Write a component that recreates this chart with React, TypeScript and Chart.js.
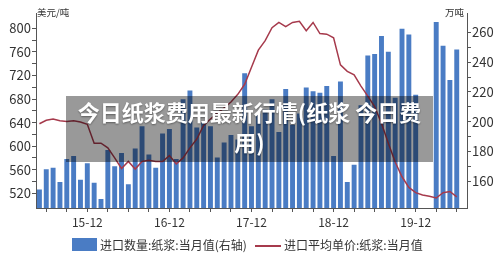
import React, { useEffect, useRef } from "react";
import { Chart, registerables } from "chart.js";

Chart.register(...registerables);

const FONT = '"Noto Sans CJK SC", "Noto Sans", sans-serif';

const months: string[] = [
  "15-05", "15-06", "15-07", "15-08", "15-09", "15-10", "15-11", "15-12",
  "16-01", "16-02", "16-03", "16-04", "16-05", "16-06", "16-07", "16-08", "16-09", "16-10", "16-11", "16-12",
  "17-01", "17-02", "17-03", "17-04", "17-05", "17-06", "17-07", "17-08", "17-09", "17-10", "17-11", "17-12",
  "18-01", "18-02", "18-03", "18-04", "18-05", "18-06", "18-07", "18-08", "18-09", "18-10", "18-11", "18-12",
  "19-01", "19-02", "19-03", "19-04", "19-05", "19-06", "19-07", "19-08", "19-09", "19-10", "19-11", "19-12",
  "20-01", "20-02", "20-03", "20-04", "20-05", "20-06", "20-07",
];

// 进口数量:纸浆:当月值 (万吨, right axis)
const importVolume: (number | null)[] = [
  154.5, 168, 169, 159.5, 175, 177, 161, 172,
  159, 148, 181, 170, 179, 158, 182, 197, 178, 169, 192, 195,
  175, 215, 221, 196, 199.5, 197, 176, 186, 191, 188, 232.5, 197,
  205.5, 208, 215, 193, 222, 198, 205.5, 223, 220.5, 219.5, 224, 177,
  227, 159.5, 171, 211, 244.5, 245.5, 257.5, 247, 216, 262.5, 258.5, 218,
  null, null, 267, 251, 228, 248.5, null,
];

// 进口平均单价:纸浆:当月值 (美元/吨, left axis)
const importPrice: (number | null)[] = [
  638, 644, 646, 643, 642, 643, 641, 637,
  605, 605, 597, 580, 562, 574, 561, 574, 576, 574, 574, 584,
  570, 580, 597, 612, 635, 646, 656, 665, 675, 688, 705, 734,
  763, 779, 801, 810, 803, 810, 812, 796, 810, 791, 790, 784,
  738, 727, 721, 702, 685, 667, 639, 605, 573, 548, 530, 521,
  517, 515, 512, 521, 523, 514, null,
];

const leftMin = 495;
const leftMax = 826;
const rightMin = 142;
const rightMax = 273;

const barColor = "#4a7cc4";
const lineColor = "#a63a4c";
const axisColor = "#555555";
const textColor = "#333333";

const titleLine1 = "今日纸浆费用最新行情(纸浆 今日费";
const titleLine2 = "用)";
const legendBar = "进口数量:纸浆:当月值(右轴)";
const legendLine = "进口平均单价:纸浆:当月值";
const leftUnit = "美元/吨";
const rightUnit = "万吨";

export default function App() {
  const canvasRef = useRef<HTMLCanvasElement | null>(null);

  useEffect(() => {
    document.body.style.margin = "0";
    const canvas = canvasRef.current;
    if (!canvas) return;
    const chart = new Chart(canvas, {
      type: "bar",
      data: {
        labels: months,
        datasets: [
          {
            type: "line",
            label: legendLine,
            data: importPrice,
            yAxisID: "y",
            borderColor: lineColor,
            backgroundColor: lineColor,
            borderWidth: 1.5,
            pointRadius: 0,
            tension: 0,
            spanGaps: false,
            order: 0,
          } as any,
          {
            type: "bar",
            label: legendBar,
            data: importVolume,
            yAxisID: "y1",
            backgroundColor: barColor,
            categoryPercentage: 1,
            barPercentage: 0.72,
            order: 1,
          } as any,
        ],
      },
      options: {
        responsive: false,
        animation: false,
        maintainAspectRatio: false,
        layout: { padding: { left: 0, right: 0, top: 13, bottom: 21 } },
        plugins: {
          legend: { display: false },
          tooltip: { enabled: false },
          title: { display: false },
        },
        scales: {
          x: {
            type: "category",
            offset: true,
            grid: {
              offset: false,
              drawOnChartArea: false,
              drawTicks: true,
              tickLength: 4,
              color: (ctx: any) => (ctx.index % 3 === 1 ? axisColor : "rgba(0,0,0,0)"),
            },
            border: { display: true, color: axisColor, width: 1 },
            ticks: {
              autoSkip: false,
              maxRotation: 0,
              minRotation: 0,
              padding: 3,
              color: textColor,
              font: { size: 12, family: FONT },
              callback: (_v: any, i: number) => (months[i].endsWith("-12") ? months[i] : ""),
            },
            afterFit: (s: any) => {
              s.height = 30;
            },
          },
          y: {
            type: "linear",
            position: "left",
            min: leftMin,
            max: leftMax,
            grid: {
              drawOnChartArea: false,
              drawTicks: true,
              tickLength: 4,
              color: (ctx: any) =>
                ctx.tick && ctx.tick.value % 20 === 0 ? axisColor : "rgba(0,0,0,0)",
            },
            border: { display: true, color: axisColor, width: 1 },
            ticks: {
              stepSize: 20,
              autoSkip: false,
              padding: 1,
              color: textColor,
              font: { size: 13, family: FONT },
              callback: (v: any) => (Number(v) % 40 === 0 ? String(v) : ""),
            },
            afterFit: (s: any) => {
              s.width = 36;
            },
          },
          y1: {
            type: "linear",
            position: "right",
            min: rightMin,
            max: rightMax,
            grid: {
              drawOnChartArea: false,
              drawTicks: true,
              tickLength: 4,
              color: (ctx: any) =>
                ctx.tick && ctx.tick.value % 10 === 0 ? axisColor : "rgba(0,0,0,0)",
            },
            border: { display: true, color: axisColor, width: 1 },
            ticks: {
              stepSize: 10,
              autoSkip: false,
              padding: 1,
              color: textColor,
              font: { size: 13, family: FONT },
              callback: (v: any) => (Number(v) % 20 === 0 ? String(v) : ""),
            },
            afterFit: (s: any) => {
              s.width = 33;
            },
          },
        },
      },
    });
    return () => {
      chart.destroy();
    };
  }, []);

  return (
    <div
      style={{
        position: "relative",
        width: 500,
        height: 259,
        background: "#ffffff",
        overflow: "hidden",
        fontFamily: FONT,
      }}
    >
      <canvas ref={canvasRef} width={500} height={259} style={{ display: "block" }} />
      <span
        style={{
          position: "absolute",
          left: 37,
          top: 5,
          fontSize: 9.5,
          lineHeight: "14px",
          color: textColor,
          whiteSpace: "nowrap",
        }}
      >
        {leftUnit}
      </span>
      <span
        style={{
          position: "absolute",
          right: 36,
          top: 5,
          fontSize: 9.5,
          lineHeight: "14px",
          color: textColor,
          whiteSpace: "nowrap",
        }}
      >
        {rightUnit}
      </span>
      <div
        style={{
          position: "absolute",
          left: 66,
          top: 96,
          width: 367,
          height: 66,
          background: "rgba(0,0,0,0.4)",
          color: "#ffffff",
          fontWeight: 700,
          fontSize: 22,
          lineHeight: "30px",
          textAlign: "center",
          paddingTop: 0,
          boxSizing: "border-box",
          textShadow: "0 1px 2px rgba(0,0,0,0.4)",
          whiteSpace: "nowrap",
        }}
      >
        <div>{titleLine1}</div>
        <div>{titleLine2}</div>
      </div>
      <div
        style={{
          position: "absolute",
          left: 72,
          top: 238,
          width: 25,
          height: 13,
          background: barColor,
        }}
      />
      <span
        style={{
          position: "absolute",
          left: 100,
          top: 236,
          fontSize: 12,
          lineHeight: "18px",
          color: textColor,
          whiteSpace: "nowrap",
        }}
      >
        {legendBar}
      </span>
      <div
        style={{
          position: "absolute",
          left: 255,
          top: 245,
          width: 26,
          height: 2,
          background: lineColor,
        }}
      />
      <span
        style={{
          position: "absolute",
          left: 284,
          top: 236,
          fontSize: 12,
          lineHeight: "18px",
          color: textColor,
          whiteSpace: "nowrap",
        }}
      >
        {legendLine}
      </span>
    </div>
  );
}
